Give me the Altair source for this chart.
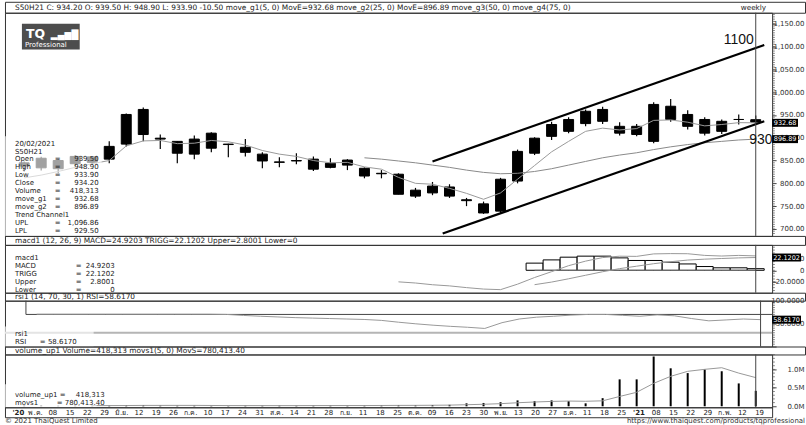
import altair as alt
import pandas as pd

FONT = "DejaVu Sans"

x_labels = ["'20", "พ.ค.", "08", "15", "22", "29", "มิ.ย.", "12", "19", "26", "ก.ค.", "10", "17", "24", "31",
            "ส.ค.", "14", "21", "28", "ก.ย.", "11", "18", "25", "ต.ค.", "09", "16", "23", "30", "พ.ย.", "13",
            "20", "27", "ธ.ค.", "11", "18", "25", "'21", "08", "15", "22", "29", "ก.พ.", "12", "19"]
year_marks = [0, 36]
opens = [838, 834, 850, 843, 858, 853, 886, 907, 899, 892, 864, 877, 886, 879, 864, 847, 849, 853, 844, 840, 833,
         822, 820, 785, 779, 792, 764, 755, 739, 805, 866, 903, 914, 931, 962, 925, 907, 892, 969, 951, 940, 914,
         940, 939.5]
highs = [848, 858, 853, 862, 860, 892, 953, 966, 907, 892, 905, 912, 887, 897, 868, 857, 866, 859, 855, 853, 835,
         829, 822, 790, 803, 798, 768, 760, 812, 874, 901, 935, 945, 962, 968, 934, 930, 978, 985, 960, 945, 940,
         951, 948.9]
lows = [826, 828, 822, 838, 840, 844, 881, 892, 875, 844, 853, 868, 857, 859, 833, 835, 842, 827, 833, 829, 811,
        811, 776, 768, 774, 768, 750, 733, 734, 800, 862, 895, 910, 925, 930, 905, 903, 888, 935, 918, 905, 908,
        929, 933.9]
closes = [845, 855, 832, 859, 846, 881, 951, 962, 897, 866, 897, 910, 885, 868, 849, 846, 850, 831, 835, 851, 816,
          821, 776, 772, 794, 772, 762, 735, 809, 870, 899, 929, 940, 958, 936, 910, 925, 973, 940, 925, 910, 936,
          940, 934.2]
volumes = [20000, 22000, 15000, 20000, 18000, 20000, 30000, 30000, 22000, 20000, 20000, 18000, 15000, 20000, 18000,
           20000, 18000, 20000, 22000, 20000, 22000, 25000, 30000, 28000, 35000, 40000, 80000, 90000, 110000, 160000,
           140000, 160000, 140000, 80000, 220000, 730000, 730000, 1350000, 1030000, 900000, 1000000, 950000, 620000,
           418313]
move_g1 = [812, 818, 826, 835, 843, 850, 882, 893, 894, 887, 888, 894, 891, 884, 872, 864, 859, 850, 845, 846, 836,
           831, 813, 800, 798, 789, 778, 765, 779, 809, 839, 869, 892, 914, 921, 917, 920, 938, 939, 934, 926, 929,
           933, 932.68]
move_g2 = [None] * 20 + [856, 853, 849, 845, 840, 835, 829, 824, 821, 822, 826, 832, 840, 848, 856, 862, 867, 874,
                         880, 885, 889, 892, 895, 896.89]
macd = [None] * 22 + [-20, -22, -25, -27, -30, -32.5, -33.5, -24, -12.5, -2.4, 8.0, 15.9, 22.0, 24.4, 24.1, 28.4,
                      28.9, 28.7, 25.8, 24.7, 25.8, 24.9203]
trigg = [None] * 30 + [-24.9, -20.4, -14.7, -8.6, -2.5, 2.9, 7.1, 11.4, 14.9, 17.7, 19.3, 20.4, 21.5, 22.1202]
upper = [None] * 30 + [12.4, 18, 22.7, 24.5, 24.5, 21.5, 17, 17, 14, 11, 6.5, 4.3, 4.3, 2.8001]
lower = [None] * 30 + [0] * 14
rsi = [None] + [70.5, 70.5, 70.5, 70.5, 70.5, 70.5, 70.5, 70.5, 70.5, 70.5, 70.5, 70, 67.8, 66, 64.5, 63, 62, 61,
                60, 59, 57, 53, 49.5, 46.5, 44, 42, 39.4, 52, 60, 64, 66, 68.5, 70, 70, 68, 66, 69, 67, 61, 56, 58,
                60, 58.617]
rsi_levels = [70]
rsi_oversold = [30]
rsi_start_k = [0.38]

trend_line = ["UPL", "UPL", "LPL", "LPL"]
trend_k = [24.0, 43.5, 24.6, 43.5]
trend_price = [848.0, 1103.4, 690.0, 936.0]
trend_text = ["1100", "930"]
trend_text_k = [42.0, 43.3]
trend_text_price = [1115.0, 896.0]

header_main = ("S50H21 C: 934.20 O: 939.50 H: 948.90 L: 933.90 -10.50 move_g1(5, 0) MovE=932.68 "
               "move_g2(25, 0) MovE=896.89 move_g3(50, 0) move_g4(75, 0)")
header_macd = "macd1 (12, 26, 9) MACD=24.9203 TRIGG=22.1202 Upper=2.8001 Lower=0"
header_rsi = "rsi1 (14, 70, 30, 1) RSI=58.6170"
header_vol = "volume_up1 Volume=418,313 movs1(5, 0) MovS=780,413.40"

main_info_labels = ["20/02/2021", "S50H21", "Open", "High", "Low", "Close", "Volume", "move_g1", "move_g2",
                    "Trend Channel1", "UPL", "LPL"]
main_info_eq = ["", "", "=", "=", "=", "=", "=", "=", "=", "", "=", "="]
main_info_vals = ["", "", "939.50", "948.90", "933.90", "934.20", "418,313", "932.68", "896.89", "", "1,096.86",
                  "929.50"]
macd_info_labels = ["macd1", "MACD", "TRIGG", "Upper", "Lower"]
macd_info_eq = ["", "=", "=", "=", "="]
macd_info_vals = ["", "24.9203", "22.1202", "2.8001", "0"]
rsi_info_labels = ["rsi1", "RSI"]
rsi_info_vals = ["", "= 58.6170"]
vol_info_labels = ["volume_up1 =", "movs1"]
vol_info_vals = ["418,313", "= 780,413.40"]

main_marks = [932.68, 896.89]
macd_marks = [22.1202]
rsi_marks = [58.617]

df = pd.DataFrame({
    "k": list(range(44)), "label": x_labels, "open": opens, "high": highs, "low": lows, "close": closes,
    "volume": volumes, "g1": move_g1, "g2": move_g2, "macd": macd, "trigg": trigg, "upper": upper,
    "lower": lower, "rsi": rsi,
})
df["year"] = df["k"].isin(year_marks)
trend = pd.DataFrame({"line": trend_line, "k": trend_k, "price": trend_price})
trend_lbl = pd.DataFrame({"t": trend_text, "k": trend_text_k, "price": trend_text_price})
one = pd.DataFrame({"a": [0]})
cross = pd.DataFrame({"k": [43]})

W = 770
XS = alt.Scale(domain=[-0.835, 43.67], nice=False, zero=False)
xk = alt.X("k:Q", scale=XS, axis=None)


def right_axis(values, expr, flush=False):
    return alt.Axis(orient="right", values=values, labelExpr=expr, tickSize=4, labelPadding=28,
                    labelAlign="right", labelFont=FONT, labelFontSize=7, labelColor="#333",
                    tickColor="#444", domain=False, grid=False, labelOverlap=False, labelFlush=flush,
                    labelBaseline="middle", title=None)


def Y(field, scale, axis):
    return alt.Y(field, scale=scale, axis=axis)


def minor_ticks(values, scale, axis):
    return alt.Chart(pd.DataFrame({"v": values})).mark_tick(color="#555", size=2.5, thickness=1).encode(
        y=Y("v:Q", scale, axis), x=alt.value(W + 1.5))


def value_box(values, scale, axis, fmt_texts, half_w):
    d = pd.DataFrame({"v": values, "t": fmt_texts})
    shape = f"M-{half_w},-0.8H{half_w}V0.8H-{half_w}Z"
    cx = W + half_w * 5
    b = alt.Chart(d).mark_point(shape=shape, size=100, filled=True, color="black", opacity=1,
                                strokeWidth=0).encode(x=alt.value(cx), y=Y("v:Q", scale, axis))
    t = alt.Chart(d).mark_text(color="white", font=FONT, fontSize=6.5, align="center",
                               baseline="middle").encode(x=alt.value(cx), y=Y("v:Q", scale, axis), text="t:N")
    return [b, t]


def crosshair():
    return alt.Chart(cross).mark_rule(color="#444", strokeWidth=1).encode(x=xk)


def overlay(x2, y1, y2):
    return alt.Chart(one).mark_rect(color="white", opacity=0.63).encode(
        x=alt.value(0), x2=alt.value(x2), y=alt.value(y1), y2=alt.value(y2))


def info_block(lines, x, y0, align="left", lh=8.0):
    layers = []
    for i, s in enumerate(lines):
        if not s:
            continue
        layers.append(alt.Chart(one).mark_text(text=s, align=align, baseline="alphabetic", font=FONT,
                                               fontSize=7, color="#222").encode(
            x=alt.value(x), y=alt.value(round(y0 + i * lh, 2))))
    return layers


def header(text, h, right=None):
    d = pd.DataFrame({"t": [text]})
    layers = [alt.Chart(d).mark_text(align="left", baseline="middle", font=FONT, fontSize=7.45,
                                     color="#222").encode(x=alt.value(10), y=alt.value(h / 2 + 0.5), text="t:N")]
    if right:
        layers.append(alt.Chart(pd.DataFrame({"t": [right]})).mark_text(
            align="right", baseline="middle", font=FONT, fontSize=7.3, color="#222").encode(
            x=alt.value(764), y=alt.value(h / 2 + 0.5), text="t:N"))
    return alt.layer(*layers).properties(width=803, height=h)


# ---------------- main price panel ----------------
YS = alt.Scale(domain=[684.7, 1174.0], nice=False, zero=False)
YA = right_axis(list(range(700, 1151, 50)), "format(datum.value, ',.2f')")
base = alt.Chart(df)
wick = base.mark_rule(color="black", strokeWidth=1.2).encode(x=xk, y=Y("low:Q", YS, YA), y2="high:Q")
body = base.mark_bar(size=10, color="black", stroke="black", strokeWidth=1).encode(
    x=xk, y=Y("open:Q", YS, YA), y2="close:Q")
g1 = base.mark_line(color="#9a9a9a", strokeWidth=1).encode(x=xk, y=Y("g1:Q", YS, YA))
g2 = base.mark_line(color="#8a8a8a", strokeWidth=1).encode(x=xk, y=Y("g2:Q", YS, YA))
tl = alt.Chart(trend).mark_line(color="black", strokeWidth=2.2).encode(
    x=xk, y=Y("price:Q", YS, YA), detail="line:N")
tlt = alt.Chart(trend_lbl).mark_text(font="Liberation Sans", fontSize=14, color="#111", align="center",
                                     baseline="middle").encode(x=xk, y=Y("price:Q", YS, YA), text="t:N")
logo_bg = alt.Chart(one).mark_rect(color="#4d4d4d").encode(
    x=alt.value(17), x2=alt.value(75), y=alt.value(11), y2=alt.value(37))
logo_tq = alt.Chart(one).mark_text(text="TQ", font=FONT, fontSize=12.5, fontWeight="bold", color="white",
                                   align="left", baseline="alphabetic").encode(x=alt.value(21), y=alt.value(25))
logo_ic = alt.Chart(one).mark_text(text="▂▄▆█", font=FONT, fontSize=9, color="white",
                                   align="left", baseline="alphabetic").encode(x=alt.value(46), y=alt.value(25))
logo_pro = alt.Chart(one).mark_text(text="Professional", font=FONT, fontSize=7, color="white",
                                    align="left", baseline="alphabetic").encode(x=alt.value(20), y=alt.value(34))

main = alt.layer(
    wick, body, g1, g2, tl, crosshair(), tlt,
    minor_ticks(list(range(690, 1171, 5)), YS, YA),
    overlay(97, 124, 224),
    *info_block(main_info_labels, 10, 133.3),
    *info_block(main_info_eq, 50, 133.3),
    *info_block(main_info_vals, 94, 133.3, align="right"),
    logo_bg, logo_tq, logo_ic, logo_pro,
    *value_box(main_marks, YS, YA, ["932.68", "896.89"], 2.6),
).properties(width=W, height=224)

# ---------------- MACD panel ----------------
MS = alt.Scale(domain=[-38.8, 44.0], nice=False, zero=False)
MA = right_axis([-20, 0, 20], "datum.value == 0 ? '0' : (datum.value < 0 ? '-' + format(-datum.value, '.4f') "
                              ": format(datum.value, '.4f'))")
hist = base.mark_bar(size=17, fill="white", stroke="black", strokeWidth=1).encode(
    x=xk, y=Y("upper:Q", MS, MA), y2=alt.datum(0))
lowl = base.mark_line(color="#777", strokeWidth=1).encode(x=xk, y=Y("lower:Q", MS, MA))
ml = base.mark_line(color="#999", strokeWidth=1).encode(x=xk, y=Y("macd:Q", MS, MA))
tg = base.mark_line(color="#999", strokeWidth=1).encode(x=xk, y=Y("trigg:Q", MS, MA))
macd_panel = alt.layer(
    hist, lowl, ml, tg, crosshair(),
    minor_ticks(list(range(-35, 45, 5)), MS, MA),
    *info_block(macd_info_labels, 10, 15.6, lh=7.8),
    *info_block(macd_info_eq, 71, 15.6, lh=7.8),
    *info_block(macd_info_vals, 110, 15.6, align="right", lh=7.8),
    *value_box(macd_marks, MS, MA, ["22.1202"], 2.9),
).properties(width=W, height=48)

# ---------------- RSI panel ----------------
RS = alt.Scale(domain=[0, 100], nice=False, zero=False)
RA = right_axis([0, 50, 100], "datum.value == 0 ? '' : format(datum.value, '.4f')", flush=True)
r_lvl = alt.Chart(pd.DataFrame({"v": rsi_levels, "k": rsi_start_k})).mark_rule(color="#444", strokeWidth=1).encode(
    x=xk, x2=alt.datum(43.67), y=Y("v:Q", RS, RA))
r_vert = alt.Chart(pd.DataFrame({"v": rsi_levels, "k": rsi_start_k})).mark_rule(color="#444", strokeWidth=1).encode(
    x=xk, y=Y("v:Q", RS, RA), y2=alt.datum(100))
r_30 = alt.Chart(pd.DataFrame({"v": rsi_oversold})).mark_rule(color="#b5b5b5", strokeWidth=2).encode(
    y=Y("v:Q", RS, RA))
r_line = base.mark_line(color="#999", strokeWidth=1).encode(x=xk, y=Y("rsi:Q", RS, RA))
rsi_panel = alt.layer(
    r_lvl, r_30, r_vert, r_line, crosshair(),
    minor_ticks(list(range(5, 100, 5)), RS, RA),
    overlay(89, 26, 46),
    *info_block(rsi_info_labels, 10, 35.6, lh=7.5),
    *info_block(rsi_info_vals, 35, 35.6, lh=7.5),
    *value_box(rsi_marks, RS, RA, ["58.6170"], 2.9),
).properties(width=W, height=46)

# ---------------- Volume panel ----------------
VS = alt.Scale(domain=[-27000, 1405000], nice=False, zero=False)
VA = right_axis([0, 500000, 1000000], "format(datum.value / 1000000, '.1f') + 'M'")
vbar = base.mark_bar(size=2, color="black").encode(x=xk, y=Y("volume:Q", VS, VA), y2=alt.datum(0))
movs = base.transform_window(movs="mean(volume)", frame=[-4, 0], sort=[alt.SortField("k")]).transform_filter(
    "datum.k >= 4").mark_line(color="#999", strokeWidth=1).encode(x=xk, y=Y("movs:Q", VS, VA))
vol_panel = alt.layer(
    vbar, movs, crosshair(),
    minor_ticks(list(range(100000, 1400001, 100000)), VS, VA),
    overlay(92, 30, 53),
    *info_block(vol_info_labels, 10, 43, lh=8),
    *info_block(vol_info_vals, 100, 43, align="right", lh=8),
).properties(width=W, height=53)

# ---------------- x labels band & footer ----------------
xb_norm = base.transform_filter("!datum.year").mark_text(
    font=FONT, fontSize=7, color="#222", baseline="middle", dx=-1).encode(
    x=xk, y=alt.value(5.5), text="label:N")
xb_year = base.transform_filter("datum.year").mark_text(
    font=FONT, fontSize=7, fontWeight="bold", color="#222", baseline="middle", dx=-1).encode(
    x=xk, y=alt.value(5.5), text="label:N")
xband = alt.layer(xb_norm, xb_year).properties(width=W, height=10)

foot_l = alt.Chart(one).mark_text(text="© 2021 ThaiQuest Limited", font=FONT, fontSize=7, color="#333",
                                  align="left", baseline="middle").encode(x=alt.value(0), y=alt.value(4))
foot_r = alt.Chart(one).mark_text(text="https://www.thaiquest.com/products/tqprofessional", font=FONT, fontSize=7,
                                  color="#333", align="right", baseline="middle").encode(x=alt.value(803),
                                                                                         y=alt.value(4))
footer = alt.layer(foot_l, foot_r).properties(width=803, height=8,
                                              view=alt.ViewBackground(stroke="transparent"))

chart = alt.vconcat(
    header(header_main, 11, "weekly"), main,
    header(header_macd, 9), macd_panel,
    header(header_rsi, 8), rsi_panel,
    header(header_vol, 8), vol_panel,
    xband, footer,
    spacing=0, bounds="flush",
).configure_view(stroke="#333", strokeWidth=1).configure_axis(labelOverlap=False).properties(
    padding={"left": 3, "top": 0, "right": 0, "bottom": 0}, background="white")

chart.save("out.html", embed_options={"renderer": "svg", "actions": False})
